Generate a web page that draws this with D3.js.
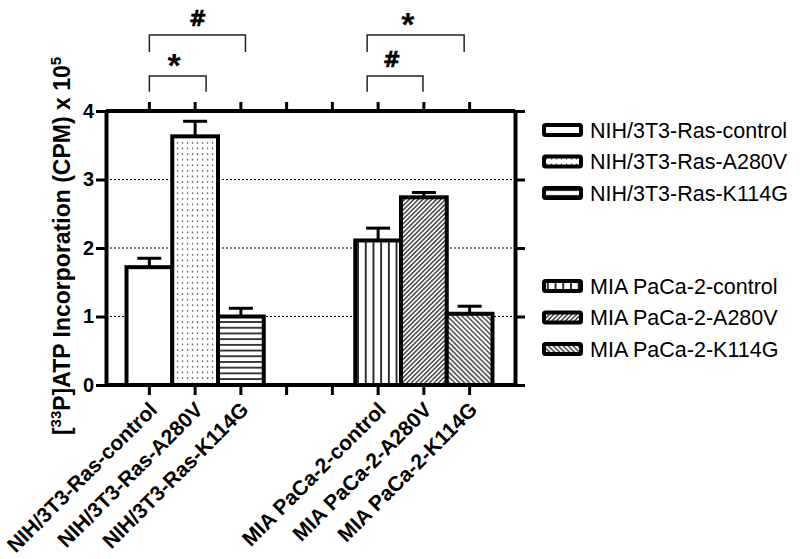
<!DOCTYPE html>
<html>
<head>
<meta charset="utf-8">
<script src="https://cdn.jsdelivr.net/npm/d3@7"></script>
<style>
  body { margin: 0; background: #fff; }
  text { font-family: "Liberation Sans", Arial, sans-serif; fill: #000; }
</style>
</head>
<body>
<div id="chart"></div>
<script>
// x slots (two empty slots separate the cell lines)
var xLabels = ["NIH/3T3-Ras-control", "NIH/3T3-Ras-A280V", "NIH/3T3-Ras-K114G", "", "",
               "MIA PaCa-2-control", "MIA PaCa-2-A280V", "MIA PaCa-2-K114G"];
var barSlots = [0, 1, 2, 5, 6, 7];
var barValues = [1.72, 3.63, 1.00, 2.11, 2.74, 1.04];
var barErrors = [0.13, 0.22, 0.12, 0.18, 0.07, 0.11];
var yTicks = [0, 1, 2, 3, 4];
var gridValues = [1, 2, 3];

// significance brackets, in slot units and y units
var bracketFrom = [0, 0, 4.76, 4.76];
var bracketTo = [1.24, 2.1, 5.98, 6.88];
var bracketTop = [4.51, 5.11, 4.51, 5.11];
var bracketLeg = [4.28, 4.86, 4.28, 4.86];
var bracketSymbol = ["*", "#", "#", "*"];
var symbolSlot = [0.54, 1.06, 5.3, 5.65];

var legendGroup = [0, 0, 0, 1, 1, 1];
var legendRow = [0, 1, 2, 0, 1, 2];

var fills = ["#fff", "url(#dots)", "url(#hlines)", "url(#vlines)", "url(#diagUp)", "url(#diagDown)"];

var svgWidth = 800;
var svgHeight = 559;
var plot = { left: 106, right: 515, top: 111, bottom: 385 };

var svg = d3.select("#chart")
  .append("svg")
  .attr("width", svgWidth)
  .attr("height", svgHeight);

svg.append("rect").attr("width", svgWidth).attr("height", svgHeight).attr("fill", "#fff");

// patterns
var defs = svg.append("defs");

var pDots = defs.append("pattern").attr("id", "dots").attr("patternUnits", "userSpaceOnUse")
  .attr("width", 5).attr("height", 5.6);
pDots.append("rect").attr("width", 5).attr("height", 5.6).attr("fill", "#fff");
pDots.append("rect").attr("x", 1.9).attr("y", 2.2).attr("width", 1.3).attr("height", 1.3).attr("fill", "#333");

var pH = defs.append("pattern").attr("id", "hlines").attr("patternUnits", "userSpaceOnUse")
  .attr("width", 10).attr("height", 5.7);
pH.append("rect").attr("width", 10).attr("height", 5.7).attr("fill", "#fff");
pH.append("line").attr("x1", 0).attr("x2", 10).attr("y1", 2.85).attr("y2", 2.85)
  .attr("stroke", "#000").attr("stroke-width", 1.5);

var pV = defs.append("pattern").attr("id", "vlines").attr("patternUnits", "userSpaceOnUse")
  .attr("width", 7.7).attr("height", 10);
pV.append("rect").attr("width", 7.7).attr("height", 10).attr("fill", "#fff");
pV.append("line").attr("x1", 3.85).attr("x2", 3.85).attr("y1", 0).attr("y2", 10)
  .attr("stroke", "#000").attr("stroke-width", 1.6);

function diag(id, spacing, angle) {
  var p = defs.append("pattern").attr("id", id).attr("patternUnits", "userSpaceOnUse")
    .attr("width", spacing).attr("height", 10)
    .attr("patternTransform", "rotate(" + angle + ")");
  p.append("rect").attr("width", spacing).attr("height", 10).attr("fill", "#fff");
  p.append("line").attr("x1", spacing / 2).attr("x2", spacing / 2).attr("y1", 0).attr("y2", 10)
    .attr("stroke", "#000").attr("stroke-width", 1.1);
}
diag("diagUp", 3.2, 45);
diag("diagDown", 3.5, -45);

// scales
var x = d3.scaleBand()
  .domain(d3.range(xLabels.length))
  .range([105, 514])
  .paddingInner(0)
  .paddingOuter(0.47);

var slotX = d3.scaleLinear()
  .domain([0, xLabels.length - 1])
  .range([x(0) + x.bandwidth() / 2, x(xLabels.length - 1) + x.bandwidth() / 2]);

var y = d3.scaleLinear()
  .domain([0, 4])
  .range([plot.bottom, plot.top]);

// gridlines
svg.append("g").selectAll("line")
  .data(gridValues)
  .enter()
  .append("line")
  .attr("x1", plot.left).attr("x2", plot.right)
  .attr("y1", d => y(d)).attr("y2", d => y(d))
  .attr("stroke", "#000")
  .attr("stroke-width", 1.2)
  .attr("stroke-dasharray", "2,2");

// bars
var barData = barValues.map(function(v, i) {
  return { slot: barSlots[i], value: v, err: barErrors[i], fill: fills[i] };
});

var bars = svg.append("g");

bars.selectAll(".err")
  .data(barData)
  .enter()
  .append("line")
  .attr("x1", d => x(d.slot) + x.bandwidth() / 2)
  .attr("x2", d => x(d.slot) + x.bandwidth() / 2)
  .attr("y1", d => y(d.value))
  .attr("y2", d => y(d.value + d.err))
  .attr("stroke", "#000")
  .attr("stroke-width", 3);

bars.selectAll(".cap")
  .data(barData)
  .enter()
  .append("line")
  .attr("x1", d => x(d.slot) + x.bandwidth() / 2 - 12)
  .attr("x2", d => x(d.slot) + x.bandwidth() / 2 + 12)
  .attr("y1", d => y(d.value + d.err))
  .attr("y2", d => y(d.value + d.err))
  .attr("stroke", "#000")
  .attr("stroke-width", 3);

bars.selectAll("rect")
  .data(barData)
  .enter()
  .append("rect")
  .attr("x", d => x(d.slot))
  .attr("width", x.bandwidth())
  .attr("y", d => y(d.value))
  .attr("height", d => y(0) - y(d.value))
  .attr("fill", d => d.fill)
  .attr("stroke", "#000")
  .attr("stroke-width", 4);

// axes
function styleAxis(g) {
  g.select(".domain").attr("stroke", "#000").attr("stroke-width", 4);
  g.selectAll(".tick line").attr("stroke", "#000").attr("stroke-width", 3);
}

svg.append("g")
  .attr("transform", `translate(${plot.left},0)`)
  .call(d3.axisLeft(y).tickValues(yTicks).tickSize(10).tickSizeOuter(0).tickPadding(2).tickFormat(d3.format("d")))
  .call(styleAxis)
  .call(g => g.selectAll("text")
    .style("font-family", "'Liberation Sans', Arial, sans-serif")
    .style("font-size", "20px")
    .style("font-weight", "bold")
    .attr("fill", "#000"));

svg.append("g")
  .attr("transform", `translate(${plot.right},0)`)
  .call(d3.axisRight(y).tickValues(yTicks).tickSize(10).tickSizeOuter(0).tickFormat(""))
  .call(styleAxis);

svg.append("g")
  .attr("transform", `translate(0,${plot.top})`)
  .call(d3.axisTop(x).tickSize(9).tickSizeOuter(0).tickFormat(""))
  .call(styleAxis)
  .call(g => g.select(".domain").attr("d", `M${plot.left},0H${plot.right}`));

svg.append("g")
  .attr("transform", `translate(0,${plot.bottom})`)
  .call(d3.axisBottom(x).tickSize(10).tickSizeOuter(0).tickFormat(""))
  .call(styleAxis)
  .call(g => g.select(".domain").attr("d", `M${plot.left},0H${plot.right}`));

// category labels
svg.append("g").selectAll("text")
  .data(d3.range(xLabels.length).filter(i => xLabels[i] !== ""))
  .enter()
  .append("text")
  .attr("transform", d => `translate(${x(d) + x.bandwidth() / 2 + 9},411) rotate(-45)`)
  .attr("text-anchor", "end")
  .style("font-size", "21px")
  .style("font-weight", "bold")
  .text(d => xLabels[d]);

// y axis title
var yTitle = svg.append("text")
  .attr("transform", `translate(70,${(plot.top + plot.bottom) / 2 - 2}) rotate(-90)`)
  .attr("text-anchor", "middle")
  .style("font-size", "23px")
  .style("font-weight", "bold");
yTitle.append("tspan").text("[");
yTitle.append("tspan").attr("dy", -9).style("font-size", "15px").text("33");
yTitle.append("tspan").attr("dy", 9).text("P]ATP Incorporation (CPM) x 10");
yTitle.append("tspan").attr("dy", -9).style("font-size", "15px").text("5");

// significance brackets
var bracketData = bracketFrom.map(function(f, i) {
  return { from: f, to: bracketTo[i], top: bracketTop[i], leg: bracketLeg[i],
           sym: bracketSymbol[i], symX: symbolSlot[i] };
});

svg.append("g").selectAll("path")
  .data(bracketData)
  .enter()
  .append("path")
  .attr("d", d => `M${slotX(d.from)},${y(d.leg)}V${y(d.top)}H${slotX(d.to)}V${y(d.leg)}`)
  .attr("fill", "none")
  .attr("stroke", "#222")
  .attr("stroke-width", 1.5);

svg.append("g").selectAll("text")
  .data(bracketData)
  .enter()
  .append("text")
  .attr("x", d => slotX(d.symX))
  .attr("y", d => d.sym === "*" ? y(d.top) + 1 : y(d.top) - 9)
  .attr("text-anchor", "middle")
  .style("font-family", d => d.sym === "*" ? "'Liberation Sans', Arial, sans-serif" : "'DejaVu Sans', sans-serif")
  .style("font-weight", "bold")
  .style("font-size", d => d.sym === "*" ? "34px" : "21px")
  .attr("stroke", d => d.sym === "*" ? "none" : "#000")
  .attr("stroke-width", 0.6)
  .text(d => d.sym);

// legend
var legendData = fills.map(function(f, i) {
  return { fill: f, label: xLabels[barSlots[i]], group: legendGroup[i], row: legendRow[i] };
});
var legendY = d => (d.group === 0 ? 130 : 286) + d.row * 31.5;

var legend = svg.append("g").selectAll("g")
  .data(legendData)
  .enter()
  .append("g")
  .attr("transform", d => `translate(544,${legendY(d)})`);

legend.append("rect")
  .attr("x", 0).attr("y", -5)
  .attr("width", 37).attr("height", 10)
  .attr("rx", 1.5)
  .attr("fill", d => d.fill)
  .attr("stroke", "#000")
  .attr("stroke-width", 4);

legend.append("text")
  .attr("x", 46)
  .attr("y", 7.5)
  .style("font-size", "21.5px")
  .text(d => d.label);
</script>
</body>
</html>
